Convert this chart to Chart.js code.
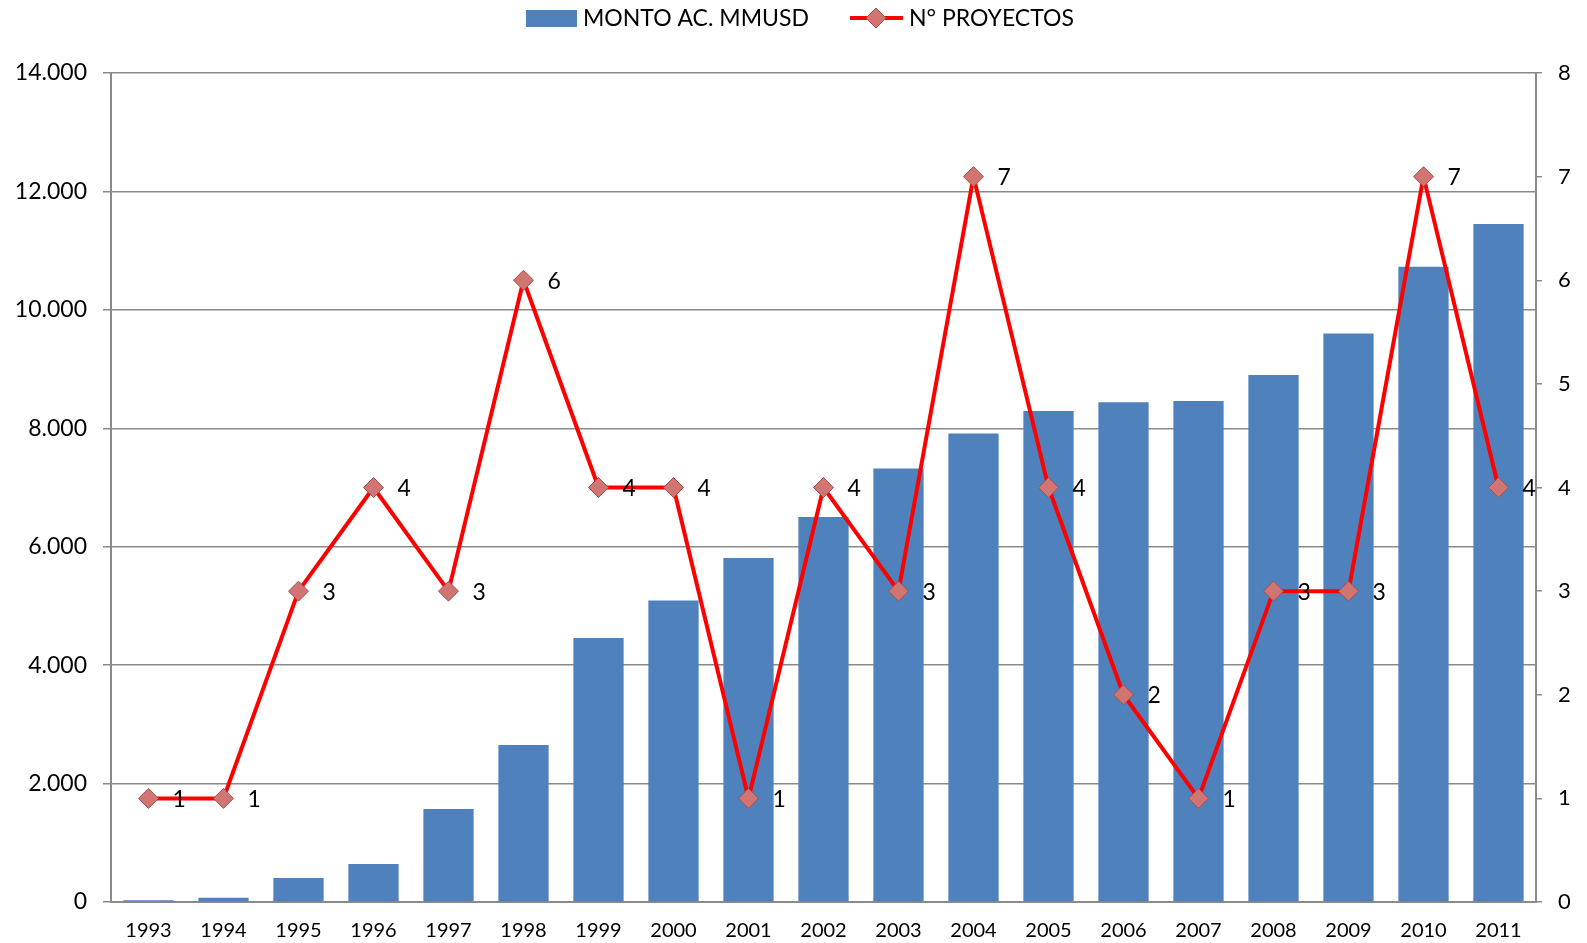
<!DOCTYPE html>
<html>
<head>
<meta charset="UTF-8">
<title>Monto y proyectos</title>
<script src="https://cdn.jsdelivr.net/npm/chart.js"></script>
<style>
body { margin: 0; background: #fff; }
</style>
</head>
<body>
<canvas id="myChart" width="1587" height="943"></canvas>
<script>
// datos
const years = ['1993','1994','1995','1996','1997','1998','1999','2000','2001','2002','2003','2004','2005','2006','2007','2008','2009','2010','2011'];
const monto = [30, 70, 405, 640, 1570, 2650, 4460, 5090, 5810, 6500, 7320, 7910, 8290, 8440, 8460, 8900, 9600, 10730, 11450];
const proyectos = [1, 1, 3, 4, 3, 6, 4, 4, 1, 4, 3, 7, 4, 2, 1, 3, 3, 7, 4];
const leftTicks = [0, 2000, 4000, 6000, 8000, 10000, 12000, 14000];
const rightTicks = [0, 1, 2, 3, 4, 5, 6, 7, 8];

const FONT = 'Lato, "Open Sans", sans-serif';
const BLUE = '#4F81BD';
const RED = '#FF0000';
const MARK = '#D07572';
const MARK_BORDER = '#A4504D';

function miles(v) {
	return String(v).replace(/\B(?=(\d{3})+(?!\d))/g, '.');
}

// etiquetas de valor junto a cada punto + leyenda propia
const extras = {
	id: 'extras',
	afterDatasetsDraw(chart) {
		const ctx = chart.ctx;
		const meta = chart.getDatasetMeta(0);
		ctx.save();
		ctx.fillStyle = '#000';
		ctx.font = '23px ' + FONT;
		ctx.textAlign = 'left';
		ctx.textBaseline = 'middle';
		meta.data.forEach(function(pt, i) {
			ctx.fillText(proyectos[i], pt.x + 24, pt.y + 1);
		});

		// leyenda
		ctx.font = '23px ' + FONT;
		ctx.fillStyle = BLUE;
		ctx.fillRect(526, 10, 51, 17);
		ctx.fillStyle = '#000';
		ctx.fillText('MONTO AC. MMUSD', 583, 19);
		ctx.strokeStyle = RED;
		ctx.lineWidth = 4;
		ctx.beginPath();
		ctx.moveTo(850, 18);
		ctx.lineTo(903, 18);
		ctx.stroke();
		ctx.beginPath();
		ctx.moveTo(876, 8); ctx.lineTo(886, 18); ctx.lineTo(876, 28); ctx.lineTo(866, 18);
		ctx.closePath();
		ctx.fillStyle = MARK;
		ctx.fill();
		ctx.lineWidth = 1;
		ctx.strokeStyle = MARK_BORDER;
		ctx.stroke();
		ctx.fillStyle = '#000';
		ctx.fillText('N° PROYECTOS', 909, 19);
		ctx.restore();
	}
};

const ctx = document.getElementById('myChart').getContext('2d');
const myChart = new Chart(ctx, {
	data: {
		labels: years,
		datasets: [{
			type: 'line',
			label: 'N° PROYECTOS',
			data: proyectos,
			yAxisID: 'y1',
			borderColor: RED,
			borderWidth: 4,
			tension: 0,
			pointStyle: 'rectRot',
			pointRadius: 10,
			pointBackgroundColor: MARK,
			pointBorderColor: MARK_BORDER,
			pointBorderWidth: 1,
			order: 0
		}, {
			type: 'bar',
			label: 'MONTO AC. MMUSD',
			data: monto,
			yAxisID: 'y',
			backgroundColor: BLUE,
			categoryPercentage: 1,
			barPercentage: 0.67,
			order: 1
		}]
	},
	options: {
		responsive: false,
		animation: false,
		layout: { padding: { top: 73, left: 0, right: 0, bottom: 0 } },
		plugins: {
			legend: { display: false },
			tooltip: { enabled: false }
		},
		scales: {
			x: {
				grid: { display: false },
				border: { display: true, color: '#8A8A8A', width: 2 },
				ticks: { color: '#000', font: { family: FONT, size: 20 }, padding: 9, maxRotation: 0 },
				afterFit(scale) { scale.height = 41; }
			},
			y: {
				position: 'left',
				min: 0,
				max: 14000,
				afterBuildTicks(scale) { scale.ticks = leftTicks.map(v => ({ value: v })); },
				grid: { color: '#8A8A8A', lineWidth: 1.5, tickLength: 8 },
				border: { color: '#8A8A8A', width: 2 },
				ticks: { color: '#000', font: { family: FONT, size: 23 }, padding: 16, callback: v => miles(v) },
				afterFit(scale) { scale.width = 111; }
			},
			y1: {
				position: 'right',
				min: 0,
				max: 8,
				afterBuildTicks(scale) { scale.ticks = rightTicks.map(v => ({ value: v })); },
				grid: { drawOnChartArea: false, color: '#8A8A8A', lineWidth: 1.5, tickLength: 6 },
				border: { color: '#8A8A8A', width: 2 },
				ticks: { color: '#000', font: { family: FONT, size: 22 }, padding: 16 },
				afterFit(scale) { scale.width = 51; }
			}
		}
	},
	plugins: [extras]
});
</script>
</body>
</html>
